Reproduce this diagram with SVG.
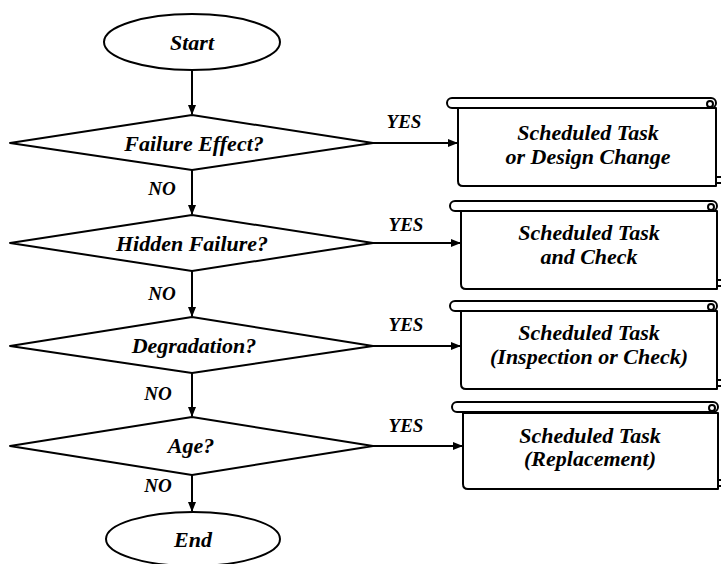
<svg xmlns="http://www.w3.org/2000/svg" width="722" height="564" viewBox="0 0 722 564">
<defs>
<style>
.shape{fill:#fff;stroke:#000;stroke-width:2;stroke-linejoin:round}
.line{fill:none;stroke:#000;stroke-width:2}
.t{font-family:"Liberation Serif","Times New Roman",serif;font-weight:bold;font-style:italic;font-size:22px;fill:#000;text-anchor:middle}
.s{font-family:"Liberation Serif","Times New Roman",serif;font-weight:bold;font-style:italic;font-size:19px;fill:#000;text-anchor:middle}
</style>
<marker id="ah" markerWidth="10" markerHeight="8" refX="9" refY="4" orient="auto" markerUnits="userSpaceOnUse">
<path d="M0,0 L10,4 L0,8 Z" fill="#000"/>
</marker>
</defs>

<g id="connectors">
<line class="line" x1="192" y1="70" x2="192" y2="114" marker-end="url(#ah)"/>
<line class="line" x1="192" y1="170" x2="192" y2="214" marker-end="url(#ah)"/>
<line class="line" x1="192" y1="271" x2="192" y2="316" marker-end="url(#ah)"/>
<line class="line" x1="192" y1="373" x2="192" y2="416" marker-end="url(#ah)"/>
<line class="line" x1="192" y1="475" x2="192" y2="511" marker-end="url(#ah)"/>
<line class="line" x1="373" y1="143" x2="457" y2="143" marker-end="url(#ah)"/>
<line class="line" x1="373" y1="243" x2="460" y2="243" marker-end="url(#ah)"/>
<line class="line" x1="373" y1="346" x2="460" y2="346" marker-end="url(#ah)"/>
<line class="line" x1="373" y1="446" x2="462" y2="446" marker-end="url(#ah)"/>
<text class="s" x="162" y="195">NO</text>
<text class="s" x="162" y="300">NO</text>
<text class="s" x="158" y="400">NO</text>
<text class="s" x="158" y="492">NO</text>
<text class="s" x="404" y="128">YES</text>
<text class="s" x="406" y="231">YES</text>
<text class="s" x="406" y="331">YES</text>
<text class="s" x="406" y="432">YES</text>
</g>

<g id="start">
<ellipse class="shape" cx="192" cy="42" rx="88" ry="28"/>
<text class="t" x="192" y="50">Start</text>
</g>

<g id="d1">
<polygon class="shape" points="10,143 192,115 373,143 192,170"/>
<text class="t" x="194" y="151">Failure Effect?</text>
</g>
<g id="d2">
<polygon class="shape" points="10,243 192,215 373,243 192,271"/>
<text class="t" x="192" y="251">Hidden Failure?</text>
</g>
<g id="d3">
<polygon class="shape" points="10,346 192,317 373,346 192,373"/>
<text class="t" x="194" y="353">Degradation?</text>
</g>
<g id="d4">
<polygon class="shape" points="10,446 192,417 373,446 192,475"/>
<text class="t" x="191" y="453">Age?</text>
</g>

<g id="end">
<ellipse class="shape" cx="193" cy="539" rx="87" ry="27"/>
<text class="t" x="193" y="547">End</text>
</g>

<g id="b1">
<path class="shape" d="M458,108 V181 Q458,186 463,186 H716 V108 Z"/>
<path class="line" d="M716,177 H721 M716,183 H721"/>
<rect class="shape" x="447" y="98" width="269" height="10" rx="5"/>
<circle class="line" cx="710" cy="104" r="3"/>
<text class="t" x="588" y="140">Scheduled Task</text>
<text class="t" x="588" y="164">or Design Change</text>
</g>
<g id="b2">
<path class="shape" d="M461,211 V284 Q461,289 466,289 H717 V211 Z"/>
<path class="line" d="M717,280 H721 M717,286 H721"/>
<rect class="shape" x="450" y="201" width="267" height="10" rx="5"/>
<circle class="line" cx="711" cy="207" r="3"/>
<text class="t" x="589" y="240">Scheduled Task</text>
<text class="t" x="589" y="264">and Check</text>
</g>
<g id="b3">
<path class="shape" d="M461,311 V384 Q461,389 466,389 H717 V311 Z"/>
<path class="line" d="M717,380 H721 M717,386 H721"/>
<rect class="shape" x="450" y="301" width="267" height="10" rx="5"/>
<circle class="line" cx="711" cy="307" r="3"/>
<text class="t" x="589" y="340">Scheduled Task</text>
<text class="t" x="589" y="364">(Inspection or Check)</text>
</g>
<g id="b4">
<path class="shape" d="M463,413 V484 Q463,489 468,489 H718 V413 Z"/>
<path class="line" d="M718,480 H721 M718,486 H721"/>
<rect class="shape" x="452" y="402" width="266" height="10" rx="5"/>
<circle class="line" cx="712" cy="408" r="3"/>
<text class="t" x="590" y="443">Scheduled Task</text>
<text class="t" x="590" y="466">(Replacement)</text>
</g>
</svg>
